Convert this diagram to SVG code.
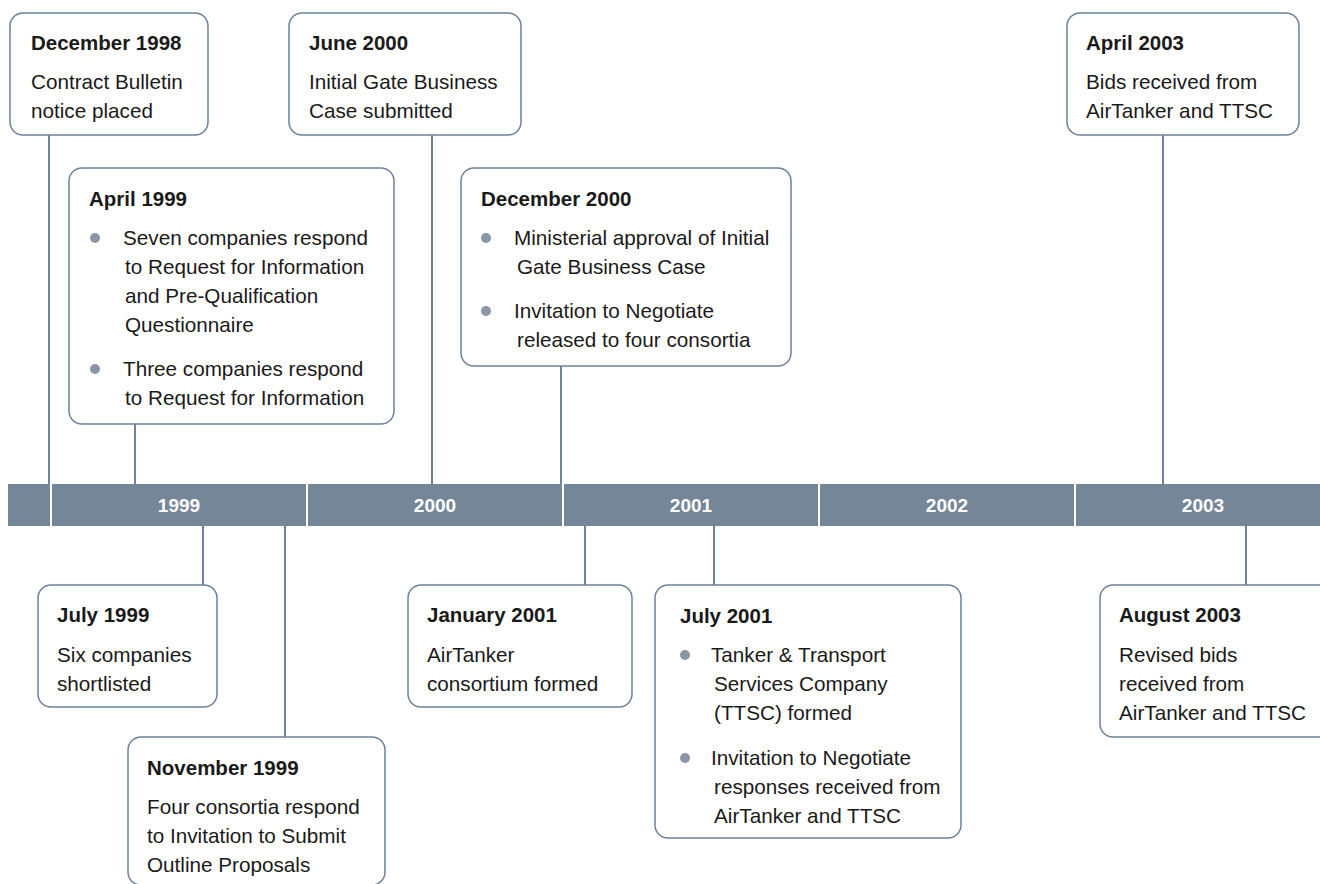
<svg xmlns="http://www.w3.org/2000/svg" width="1320" height="884" viewBox="0 0 1320 884">
<style>
.box{fill:#fff;stroke:#6f819c;stroke-width:1.5}
.t{font-family:"Liberation Sans",Arial,sans-serif;font-size:20.7px;fill:#1a1a1a}
.b{font-weight:bold;font-size:20.5px}
.yr{font-family:"Liberation Sans",Arial,sans-serif;font-size:19px;font-weight:bold;fill:#fff;text-anchor:middle}
.ln{stroke:#6f819c;stroke-width:2;fill:none}
.dot{fill:#8a95a6}
</style>
<rect width="1320" height="884" fill="#fff"/>
<g id="connectors">
<line class="ln" x1="49" y1="135" x2="49" y2="484"/>
<line class="ln" x1="432" y1="135" x2="432" y2="484"/>
<line class="ln" x1="135" y1="424" x2="135" y2="484"/>
<line class="ln" x1="561" y1="366" x2="561" y2="484"/>
<line class="ln" x1="1163" y1="135" x2="1163" y2="484"/>
<line class="ln" x1="203" y1="526" x2="203" y2="585"/>
<line class="ln" x1="285" y1="526" x2="285" y2="737"/>
<line class="ln" x1="585" y1="526" x2="585" y2="585"/>
<line class="ln" x1="714" y1="526" x2="714" y2="585"/>
<line class="ln" x1="1246" y1="526" x2="1246" y2="585"/>
</g>
<g id="timeline">
<rect x="8" y="484" width="1312" height="42" fill="#768699"/>
<g stroke="#fff" stroke-width="2">
<line x1="51" y1="484" x2="51" y2="526"/>
<line x1="307" y1="484" x2="307" y2="526"/>
<line x1="563" y1="484" x2="563" y2="526"/>
<line x1="819" y1="484" x2="819" y2="526"/>
<line x1="1075" y1="484" x2="1075" y2="526"/>
</g>
<text class="yr" x="179" y="512">1999</text>
<text class="yr" x="435" y="512">2000</text>
<text class="yr" x="691" y="512">2001</text>
<text class="yr" x="947" y="512">2002</text>
<text class="yr" x="1203" y="512">2003</text>
</g>
<g id="dec1998">
<rect class="box" x="10" y="13" width="198" height="122" rx="13"/>
<text class="t b" x="31" y="50">December 1998</text>
<text class="t" x="31" y="89">Contract Bulletin</text>
<text class="t" x="31" y="118">notice placed</text>
</g>
<g id="jun2000">
<rect class="box" x="289" y="13" width="232" height="122" rx="13"/>
<text class="t b" x="309" y="50">June 2000</text>
<text class="t" x="309" y="89">Initial Gate Business</text>
<text class="t" x="309" y="118">Case submitted</text>
</g>
<g id="apr1999">
<rect class="box" x="69" y="168" width="325" height="256" rx="13"/>
<text class="t b" x="89" y="206">April 1999</text>
<circle class="dot" cx="95" cy="238" r="5"/>
<text class="t" x="123" y="245">Seven companies respond</text>
<text class="t" x="125" y="274">to Request for Information</text>
<text class="t" x="125" y="303">and Pre-Qualification</text>
<text class="t" x="125" y="332">Questionnaire</text>
<circle class="dot" cx="95" cy="369" r="5"/>
<text class="t" x="123" y="376">Three companies respond</text>
<text class="t" x="125" y="405">to Request for Information</text>
</g>
<g id="dec2000">
<rect class="box" x="461" y="168" width="330" height="198" rx="13"/>
<text class="t b" x="481" y="206">December 2000</text>
<circle class="dot" cx="486" cy="238" r="5"/>
<text class="t" x="514" y="245">Ministerial approval of Initial</text>
<text class="t" x="517" y="274">Gate Business Case</text>
<circle class="dot" cx="486" cy="311" r="5"/>
<text class="t" x="514" y="318">Invitation to Negotiate</text>
<text class="t" x="517" y="347">released to four consortia</text>
</g>
<g id="apr2003">
<rect class="box" x="1067" y="13" width="232" height="122" rx="13"/>
<text class="t b" x="1086" y="50">April 2003</text>
<text class="t" x="1086" y="89">Bids received from</text>
<text class="t" x="1086" y="118">AirTanker and TTSC</text>
</g>
<g id="jul1999">
<rect class="box" x="38" y="585" width="179" height="122" rx="13"/>
<text class="t b" x="57" y="622">July 1999</text>
<text class="t" x="57" y="662">Six companies</text>
<text class="t" x="57" y="691">shortlisted</text>
</g>
<g id="nov1999">
<rect class="box" x="128" y="737" width="257" height="148" rx="13"/>
<text class="t b" x="147" y="775">November 1999</text>
<text class="t" x="147" y="814">Four consortia respond</text>
<text class="t" x="147" y="843">to Invitation to Submit</text>
<text class="t" x="147" y="872">Outline Proposals</text>
</g>
<g id="jan2001">
<rect class="box" x="408" y="585" width="224" height="122" rx="13"/>
<text class="t b" x="427" y="622">January 2001</text>
<text class="t" x="427" y="662">AirTanker</text>
<text class="t" x="427" y="691">consortium formed</text>
</g>
<g id="jul2001">
<rect class="box" x="655" y="585" width="306" height="253" rx="13"/>
<text class="t b" x="680" y="623">July 2001</text>
<circle class="dot" cx="685" cy="655" r="5"/>
<text class="t" x="711" y="662">Tanker &amp; Transport</text>
<text class="t" x="714" y="691">Services Company</text>
<text class="t" x="714" y="720">(TTSC) formed</text>
<circle class="dot" cx="685" cy="758" r="5"/>
<text class="t" x="711" y="765">Invitation to Negotiate</text>
<text class="t" x="714" y="794">responses received from</text>
<text class="t" x="714" y="823">AirTanker and TTSC</text>
</g>
<g id="aug2003">
<rect class="box" x="1100" y="585" width="232" height="152" rx="13"/>
<text class="t b" x="1119" y="622">August 2003</text>
<text class="t" x="1119" y="662">Revised bids</text>
<text class="t" x="1119" y="691">received from</text>
<text class="t" x="1119" y="720">AirTanker and TTSC</text>
</g>
</svg>
